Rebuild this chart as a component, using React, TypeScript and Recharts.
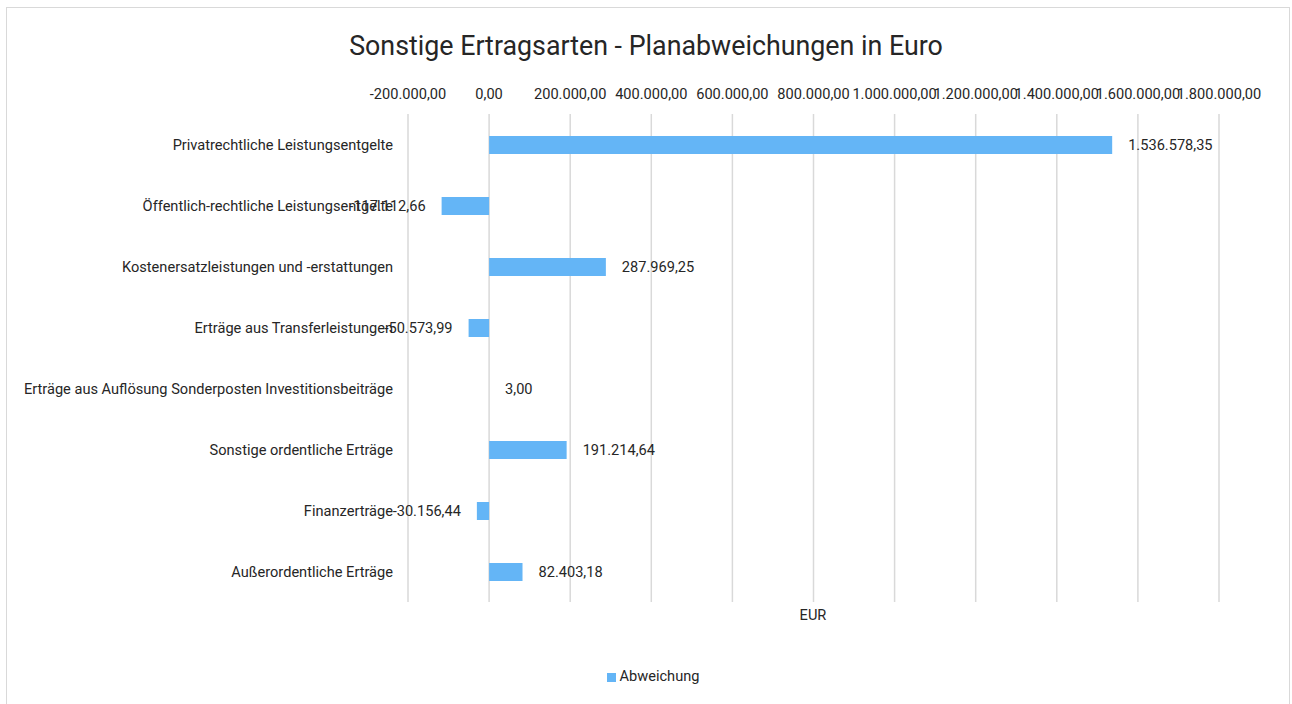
import React from "react";
import { BarChart, Bar, XAxis, YAxis, CartesianGrid, Legend, LabelList } from "recharts";

const categories = [
  "Privatrechtliche Leistungsentgelte",
  "Öffentlich-rechtliche Leistungsentgelte",
  "Kostenersatzleistungen und -erstattungen",
  "Erträge aus Transferleistungen",
  "Erträge aus Auflösung Sonderposten Investitionsbeiträge",
  "Sonstige ordentliche Erträge",
  "Finanzerträge",
  "Außerordentliche Erträge",
];
const abweichung = [1536578.35, -117112.66, 287969.25, -50573.99, 3.0, 191214.64, -30156.44, 82403.18];
const xTicks = [-200000, 0, 200000, 400000, 600000, 800000, 1000000, 1200000, 1400000, 1600000, 1800000];

const data = categories.map((name, i) => ({ name, Abweichung: abweichung[i] }));

const FONT = "Roboto, 'Noto Sans', sans-serif";
const TEXT = "#262626";
const FS = 14.6;

const fmt = (v: number) =>
  v.toLocaleString("de-DE", { minimumFractionDigits: 2, maximumFractionDigits: 2 });

const ValueLabel = (props: any) => {
  const { x, y, width, height, value } = props;
  const v = Number(value);
  const end = x + width;
  const neg = v < 0;
  const left = Math.min(x, end);
  const right = Math.max(x, end);
  const tx = neg ? left - 16 : right + 16;
  return (
    <text x={tx} y={y + height / 2} dy="0.35em" textAnchor={neg ? "end" : "start"} fill={TEXT} fontSize={FS} fontFamily={FONT}>
      {fmt(v)}
    </text>
  );
};

export default function App() {
  return (
    <div style={{ position: "absolute", left: 0, top: 0, width: 1292, height: 704, background: "#fff", fontFamily: FONT }}>
      <div style={{ position: "absolute", left: 6, top: 7, width: 1284, height: 720, border: "1.5px solid #d9d9d9", boxSizing: "border-box" }} />
      <div style={{ position: "absolute", left: 0, top: 30, width: 1292, textAlign: "center", fontSize: 26.8, color: TEXT }}>
        Sonstige Ertragsarten - Planabweichungen in Euro
      </div>
      <div style={{ position: "absolute", left: 713, top: 606, width: 200, textAlign: "center", fontSize: FS, color: TEXT }}>EUR</div>
      <div style={{ position: "absolute", left: 0, top: 0 }}>
        <BarChart
          width={1292}
          height={704}
          data={data}
          layout="vertical"
          margin={{ top: 84, right: 73, bottom: 84, left: 28 }}
          barCategoryGap={0}
        >
          <CartesianGrid horizontal={false} stroke="#d9d9d9" strokeWidth={1.5} />
          <XAxis
            type="number"
            orientation="top"
            domain={[-200000, 1800000]}
            ticks={xTicks}
            tickFormatter={fmt}
            axisLine={false}
            tickLine={false}
            tickSize={0}
            tickMargin={15}
            height={30}
            interval={0}
            tick={{ fill: TEXT, fontSize: FS, fontFamily: FONT }}
          />
          <YAxis
            type="category"
            dataKey="name"
            width={380}
            axisLine={false}
            tickLine={false}
            tickSize={0}
            tickMargin={15}
            interval={0}
            tick={{ fill: TEXT, fontSize: FS, fontFamily: FONT }}
          />
          <Legend
            verticalAlign="bottom"
            align="center"
            iconType="square"
            iconSize={9}
            wrapperStyle={{ top: 667, left: 12, width: 1292, fontSize: FS, fontFamily: FONT }}
            formatter={(v: string) => <span style={{ color: TEXT }}>{v}</span>}
          />
          <Bar dataKey="Abweichung" fill="#64b5f6" barSize={18} isAnimationActive={false}>
            <LabelList dataKey="Abweichung" content={<ValueLabel />} />
          </Bar>
        </BarChart>
      </div>
    </div>
  );
}
